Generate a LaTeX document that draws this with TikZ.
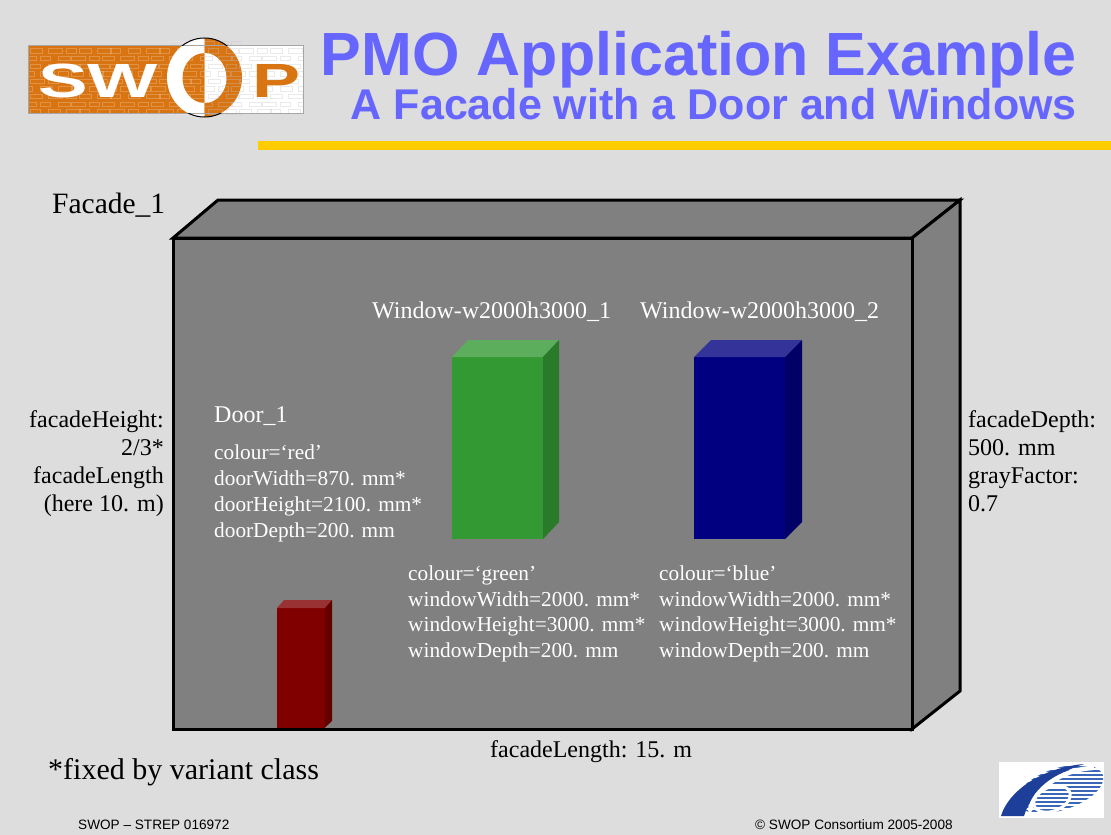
\documentclass[tikz,border=0pt]{standalone}
\usepackage{fontspec}
\usepackage{graphicx}
\setmainfont{Liberation Serif}
\newfontfamily\arialfont{Liberation Sans}
\definecolor{bgray}{HTML}{DDDDDD}
\definecolor{titleblue}{HTML}{6666FF}
\definecolor{baryellow}{HTML}{FFCC00}
\definecolor{facadegray}{HTML}{808080}
\definecolor{swoporange}{HTML}{D87411}
\definecolor{doorfront}{HTML}{800000}
\definecolor{doortop}{HTML}{993333}
\definecolor{doorside}{HTML}{620000}
\definecolor{greenfront}{HTML}{339933}
\definecolor{greentop}{HTML}{5CAD5C}
\definecolor{greenside}{HTML}{297A29}
\definecolor{bluefront}{HTML}{000080}
\definecolor{bluetop}{HTML}{333399}
\definecolor{blueside}{HTML}{000066}
\definecolor{eudark}{HTML}{1D3F9A}
\definecolor{eustripe}{HTML}{3A67B8}
\begin{document}
\begin{tikzpicture}[x=1pt,y=-1pt,
  txt/.style={inner sep=0pt, anchor=base west},
  txtr/.style={inner sep=0pt, anchor=base east},
  labelfont/.style={font=\fontsize{24}{28}\selectfont},
  attrfont/.style={font=\fontsize{21.3}{25}\selectfont},
  onfacade/.style={text=white},
  footfont/.style={font=\arialfont\fontsize{13.6}{16}\selectfont},
  outline/.style={draw=black, line width=3pt, line join=miter},
  brick/.style={line width=0.5pt}]

% page
\fill[bgray] (0,0) rectangle (1111,835);
\useasboundingbox (0,0) rectangle (1111,835);

% ---- SWOP logo ----
\fill[swoporange] (28,45) rectangle (204.5,113);
\fill[white] (204.5,45) rectangle (303,113);
\begin{scope}
  \clip (0,0) rectangle (204.5,835);
  \fill[white] (204.5,77.5) ellipse (37.5 and 39.5);
  \fill[swoporange] (204.5,78) ellipse (22 and 25);
\end{scope}
\begin{scope}
  \clip (204.5,0) rectangle (1111,835);
  \fill[swoporange] (204.5,77.5) ellipse (37.5 and 39.5);
  \fill[white] (204.5,78) ellipse (22 and 25);
\end{scope}
% brickwork texture
\begin{scope}
  \clip (167,38) rectangle (242,118) (28,45) rectangle (303,113);
  \foreach \r in {0,...,9} \foreach \c in {0,...,17}
    \draw[brick, white, opacity=0.22] ({22+\c*16+mod(\r,2)*8+mod(\c*7,5)},{41+\r*7.6}) rectangle ++({10+mod(\c+\r,3)*2},4.4);
  \begin{scope}
    \clip (204.5,0) rectangle (303,835);
    \foreach \r in {0,...,9} \foreach \c in {0,...,17}
      \draw[brick, gray, opacity=0.16] ({22+\c*16+mod(\r,2)*8+mod(\c*7,5)},{41+\r*7.6}) rectangle ++({10+mod(\c+\r,3)*2},4.4);
  \end{scope}
\end{scope}
\draw[gray!70, line width=0.8pt] (28,45) rectangle (303,113);
\begin{scope}
  \clip (0,0) rectangle (1111,45);
  \draw[black, line width=1pt] (204.5,77.5) ellipse (37.5 and 39.5);
\end{scope}
\begin{scope}
  \clip (0,113) rectangle (1111,835);
  \draw[black, line width=1pt] (204.5,77.5) ellipse (37.5 and 39.5);
\end{scope}
\node[txt, text=white, font=\arialfont\bfseries\fontsize{48}{50}\selectfont] (logoSW) at (38,97) {\scalebox{1.55}[1]{SW}};
\node[txt, text=swoporange, font=\arialfont\bfseries\fontsize{48}{50}\selectfont] (logoP) at (252,97) {\scalebox{1.5}[1]{P}};

% ---- title ----
\node[txtr, text=titleblue, font=\arialfont\bfseries\fontsize{61}{64}\selectfont] (title) at (1077,75.5) {PMO Application Example};
\node[txtr, text=titleblue, font=\arialfont\bfseries\fontsize{43}{46}\selectfont] (subtitle) at (1077,119.5) {A Facade with a Door and Windows};
\fill[baryellow] (258,141) rectangle (1111,150);

% ---- facade block ----
\filldraw[fill=facadegray, outline] (173,238) -- (218,200) -- (960,200) -- (912,238) -- cycle;
\filldraw[fill=facadegray, outline] (912,238) -- (960,200) -- (960,691) -- (912,729) -- cycle;
\filldraw[fill=facadegray, outline] (173,238) rectangle (912,729);

% door
\fill[doorfront] (277,608) rectangle (325,727.5);
\fill[doortop] (277,608) -- (284,600) -- (332,600) -- (325,608) -- cycle;
\fill[doorside] (325,608) -- (332,600) -- (332,721) -- (325,727.5) -- cycle;

% window 1
\fill[greenfront] (452,357) rectangle (543,539);
\fill[greentop] (452,357) -- (468,340) -- (559,340) -- (543,357) -- cycle;
\fill[greenside] (543,357) -- (559,340) -- (559,522) -- (543,539) -- cycle;

% window 2
\fill[bluefront] (694,357) rectangle (785,539);
\fill[bluetop] (694,357) -- (711,340) -- (802,340) -- (785,357) -- cycle;
\fill[blueside] (785,357) -- (802,340) -- (802,522) -- (785,539) -- cycle;

% ---- labels ----
\node[txt, font=\fontsize{29.5}{32}\selectfont] (facadeName) at (52,213) {Facade\_1};

\node[txt, labelfont, onfacade] (win1Name) at (372,318) {Window-w2000h3000\_1};
\node[txt, labelfont, onfacade] (win2Name) at (640,318) {Window-w2000h3000\_2};
\node[txt, labelfont, onfacade] (doorName) at (214,422) {Door\_1};

\node[txt, attrfont, onfacade] (doorA) at (214,459) {colour=‘red’};
\node[txt, attrfont, onfacade] (doorB) at (214,485) {doorWidth=870. mm*};
\node[txt, attrfont, onfacade] (doorC) at (214,511) {doorHeight=2100. mm*};
\node[txt, attrfont, onfacade] (doorD) at (214,537) {doorDepth=200. mm};

\node[txt, attrfont, onfacade] (winA) at (408,580) {colour=‘green’};
\node[txt, attrfont, onfacade] (winB) at (408,606) {windowWidth=2000. mm*};
\node[txt, attrfont, onfacade] (winC) at (408,631) {windowHeight=3000. mm*};
\node[txt, attrfont, onfacade] (winD) at (408,657) {windowDepth=200. mm};

\node[txt, attrfont, onfacade] (wiA) at (659,580) {colour=‘blue’};
\node[txt, attrfont, onfacade] (wiB) at (659,606) {windowWidth=2000. mm*};
\node[txt, attrfont, onfacade] (wiC) at (659,631) {windowHeight=3000. mm*};
\node[txt, attrfont, onfacade] (wiD) at (659,657) {windowDepth=200. mm};

\node[txtr, labelfont] (hA) at (164,427) {facadeHeight:};
\node[txtr, labelfont] (hB) at (164,455) {2/3*};
\node[txtr, labelfont] (hC) at (164,483) {facadeLength};
\node[txtr, labelfont] (hD) at (164,511) {(here 10. m)};

\node[txt, labelfont] (dA) at (968,427) {facadeDepth:};
\node[txt, labelfont] (dB) at (968,455) {500. mm};
\node[txt, labelfont] (dC) at (968,483) {grayFactor:};
\node[txt, labelfont] (dD) at (968,511) {0.7};

\node[txt, labelfont] (lengthLbl) at (490,757) {facadeLength: 15. m};
\node[txt, font=\fontsize{30}{32}\selectfont] (note) at (48,779) {*fixed by variant class};

% ---- footer ----
\node[txt, footfont] (footL) at (78,829) {SWOP – STREP 016972};
\node[txt, footfont] (footR) at (755,829) {© SWOP Consortium 2005-2008};

% ---- FP6 emblem ----
\fill[white] (999,762) rectangle (1104,818);
% striped outer body of the "6"
\begin{scope}
  \clip[rotate around={18:(1060,789)}] (1060,789) ellipse (45 and 21);
  \foreach \yy in {763,767,...,819} \draw[eustripe, line width=2.4pt] (999,\yy) -- (1104,\yy);
\end{scope}
% solid dark sweep on the left
\fill[eudark] (1001,816) .. controls (1008,792) and (1040,768) .. (1084,764)
  .. controls (1052,774) and (1030,795) .. (1024,816) -- cycle;
% white stroke of the "6"
\draw[white, line width=4.5pt, line cap=round] (1092,768) .. controls (1060,770) and (1034,790) .. (1030,810);
% loop of the "6"
\begin{scope}
  \clip[rotate around={22:(1052,799)}] (1052,799) ellipse (19 and 12);
  \fill[white] (1028,784) rectangle (1076,816);
  \foreach \yy in {786,790,...,816} \draw[eustripe, line width=2.4pt] (1028,\yy) -- (1076,\yy);
\end{scope}
\draw[white, line width=3pt, rotate around={22:(1052,799)}] (1052,799) ellipse (19 and 12);
\end{tikzpicture}
\end{document}
